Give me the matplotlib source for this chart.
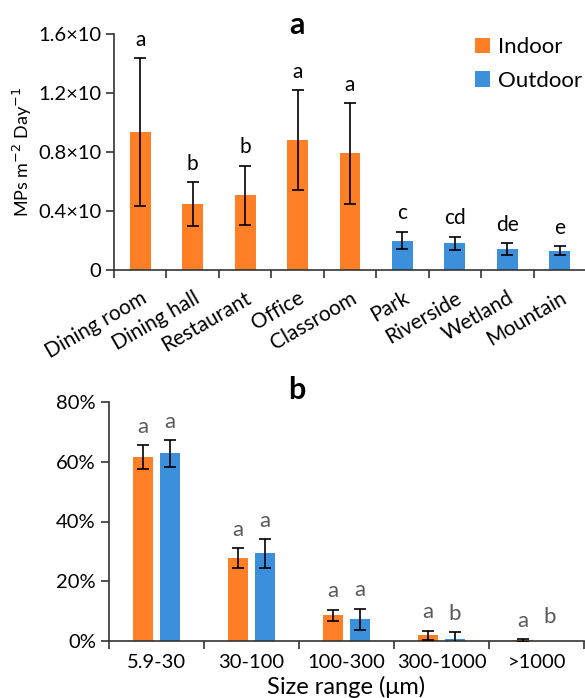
import matplotlib
matplotlib.use("Agg")
import matplotlib.pyplot as plt
import numpy as np
from matplotlib.patches import Patch
from matplotlib.ticker import FuncFormatter, FixedLocator

plt.rcParams['font.family'] = ['Lato', 'DejaVu Sans']

# Panel a data
sites = ["Dining room", "Dining hall", "Restaurant", "Office", "Classroom",
         "Park", "Riverside", "Wetland", "Mountain"]
site_group = ["Indoor"] * 5 + ["Outdoor"] * 4
flux_mean = [0.935, 0.447, 0.508, 0.88, 0.79, 0.20, 0.18, 0.14, 0.13]
flux_err = [0.50, 0.15, 0.20, 0.34, 0.34, 0.06, 0.045, 0.04, 0.03]
flux_letters = ["a", "b", "b", "a", "a", "c", "cd", "de", "e"]
flux_ticks = [0, 0.4, 0.8, 1.2, 1.6]
flux_ticklabels = ["0", "0.4×10", "0.8×10", "1.2×10", "1.6×10"]

# Panel b data
size_ranges = ["5.9-30", "30-100", "100-300", "300-1000", ">1000"]
indoor_pct = [61.6, 27.8, 8.6, 2.0, 0.2]
indoor_err = [4.0, 3.3, 1.9, 1.5, 0.5]
outdoor_pct = [62.8, 29.3, 7.3, 0.7, 0.0]
outdoor_err = [4.4, 4.7, 3.5, 2.2, 0.0]
indoor_letters = ["a", "a", "a", "a", "a"]
outdoor_letters = ["a", "a", "a", "b", "b"]
pct_ticks = [0, 20, 40, 60, 80]

ORANGE = "#FF7F27"
BLUE = "#3C8FDA"
colors = {"Indoor": ORANGE, "Outdoor": BLUE}
AXC = '#333333'

fig = plt.figure(figsize=(5.85, 6.98), dpi=100)

# ---------- Panel a ----------
ax1 = fig.add_axes([114/585, 1-270/698, (586-114)/585, (270-34)/698])
x = np.arange(len(sites))
ax1.bar(x, flux_mean, width=0.40, color=[colors[g] for g in site_group], zorder=2)
ax1.errorbar(x, flux_mean, yerr=flux_err, fmt='none', ecolor='black',
             elinewidth=1.2, capsize=4, capthick=1.2, zorder=3)
for xi, m, e, lab in zip(x, flux_mean, flux_err, flux_letters):
    ax1.annotate(lab, (xi, m + e), xytext=(0, 6), textcoords='offset points',
                 ha='center', va='bottom', fontsize=15, color='black')
ax1.set_xlim(-0.5, len(sites) - 0.5)
ax1.set_ylim(0, 1.6)
ax1.set_yticks(flux_ticks)
ax1.set_yticklabels(flux_ticklabels)
ax1.set_xticks(x)
ax1.set_xticklabels(sites, rotation=30, ha='right', rotation_mode='anchor')
ax1.xaxis.set_minor_locator(FixedLocator(np.arange(-0.5, len(sites), 1)))
ax1.tick_params(axis='x', which='major', length=0, labelsize=15, pad=13)
ax1.tick_params(axis='x', which='minor', length=6, width=1.2, direction='out', color=AXC)
ax1.tick_params(axis='y', length=6, width=1.2, labelsize=14.5, color=AXC, pad=3)
for s in ['top', 'right']:
    ax1.spines[s].set_visible(False)
for s in ['left', 'bottom']:
    ax1.spines[s].set_linewidth(1.2)
    ax1.spines[s].set_color(AXC)
ax1.set_ylabel("MPs m$^{-2}$ Day$^{-1}$", fontsize=13, labelpad=3)
fig.text(297/585, 1-25/698, "a", fontsize=22, fontweight='bold', ha='center', va='center')
handles = [Patch(facecolor=ORANGE, label="Indoor"), Patch(facecolor=BLUE, label="Outdoor")]
fig.legend(handles=handles, loc='upper left', bbox_to_anchor=(475/585, 1-37/698),
           frameon=False, fontsize=16, handlelength=0.68, handleheight=0.68,
           handletextpad=0.35, labelspacing=0.62, borderpad=0.0, borderaxespad=0.0)

# ---------- Panel b ----------
ax2 = fig.add_axes([109/585, 1-641/698, (584-109)/585, 239/698])
xb = np.arange(len(size_ranges))
w = 0.22
off = 0.142
ax2.bar(xb - off, indoor_pct, width=w, color=ORANGE, zorder=2)
ax2.bar(xb + off, outdoor_pct, width=w, color=BLUE, zorder=2)
ax2.errorbar(xb - off, indoor_pct, yerr=indoor_err, fmt='none', ecolor='black',
             elinewidth=1.2, capsize=4, capthick=1.2, zorder=3)
ob_mask = np.array(outdoor_err) > 0
ax2.errorbar((xb + off)[ob_mask], np.array(outdoor_pct)[ob_mask],
             yerr=np.array(outdoor_err)[ob_mask], fmt='none', ecolor='black',
             elinewidth=1.2, capsize=4, capthick=1.2, zorder=3)
for xi, m, e, lab in zip(xb - off, indoor_pct, indoor_err, indoor_letters):
    ax2.annotate(lab, (xi, m + e), xytext=(0, 6), textcoords='offset points',
                 ha='center', va='bottom', fontsize=16, color='#595959')
for xi, m, e, lab in zip(xb + off, outdoor_pct, outdoor_err, outdoor_letters):
    ax2.annotate(lab, (xi, m + e), xytext=(0, 6 if e > 0 else 10), textcoords='offset points',
                 ha='center', va='bottom', fontsize=16, color='#595959')
ax2.set_xlim(-0.5, len(size_ranges) - 0.5)
ax2.set_ylim(0, 80)
ax2.set_yticks(pct_ticks)
ax2.yaxis.set_major_formatter(FuncFormatter(lambda v, p: f"{v:.0f}%"))
ax2.set_xticks(xb)
ax2.set_xticklabels(size_ranges)
ax2.xaxis.set_minor_locator(FixedLocator(np.arange(-0.5, len(size_ranges) + 0.5, 1)))
ax2.tick_params(axis='x', which='major', length=0, labelsize=14.5, pad=9)
ax2.tick_params(axis='x', which='minor', length=6, width=1.2, direction='out', color=AXC)
ax2.tick_params(axis='y', length=6, width=1.2, labelsize=14.5, color=AXC)
for s in ['top', 'right']:
    ax2.spines[s].set_visible(False)
for s in ['left', 'bottom']:
    ax2.spines[s].set_linewidth(1.2)
    ax2.spines[s].set_color(AXC)
ax2.set_xlabel("Size range (μm)", fontsize=17, va='center')
ax2.xaxis.set_label_coords(0.5, -(687 - 641) / 239)
fig.text(297/585, 1-390/698, "b", fontsize=22, fontweight='bold', ha='center', va='center')

fig.savefig("out.png", dpi=100)
